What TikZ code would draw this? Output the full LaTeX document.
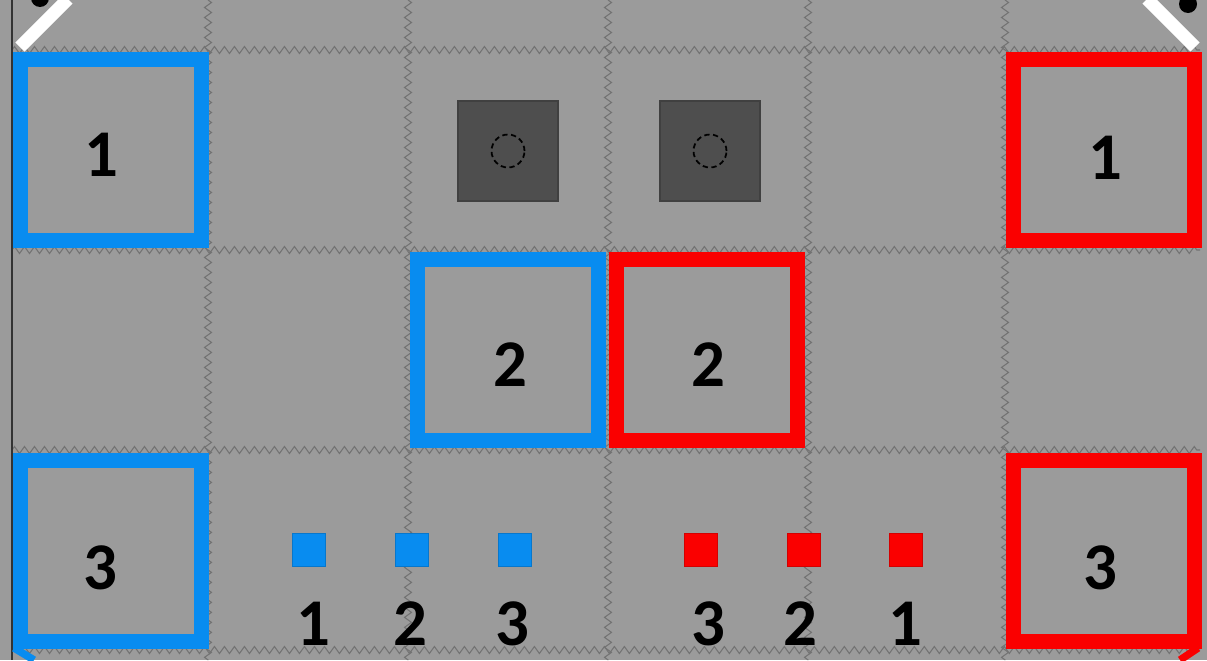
\documentclass[tikz,border=0pt]{standalone}
\usepackage{fontspec}
\setmainfont{Carlito}
\usetikzlibrary{decorations.pathmorphing}

\definecolor{fieldgray}{RGB}{155,155,155}
\definecolor{teamblue}{RGB}{8,140,240}
\definecolor{teamred}{RGB}{250,0,0}
\definecolor{postgray}{RGB}{78,78,78}

\tikzset{
  tilegap/.style={draw=black!55, line width=0.6pt, decorate,
    decoration={zigzag, segment length=0.2cm, amplitude=0.07cm}},
  zone/.style={line width=0.3cm, minimum width=3.64cm, minimum height=3.64cm, inner sep=0pt},
  bluezone/.style={zone, draw=teamblue},
  redzone/.style={zone, draw=teamred},
  numlabel/.style={font=\fontsize{38}{40}\selectfont\bfseries, text=black, inner sep=0pt},
  smallmark/.style={minimum size=0.66cm, inner sep=0pt, line width=0.6pt},
  bluemark/.style={smallmark, fill=teamblue, draw=teamblue!85!black},
  redmark/.style={smallmark, fill=teamred, draw=teamred!85!black},
  post/.style={fill=postgray, draw=black!75, line width=1pt, minimum size=2cm, inner sep=0pt}
}

\begin{document}
\begin{tikzpicture}[x=0.02cm, y=-0.02cm]
    \useasboundingbox (0,0) rectangle (1207,660);
    % Field
    \fill[fieldgray] (0,0) rectangle (1207,660);

    % Tiles
    \foreach \gx in {208,408,608,808,1005}
        \draw[tilegap] (\gx,0) -- (\gx,660);
    \foreach \gy in {50,250,450,650}
        \draw[tilegap] (12,\gy) -- (1200,\gy);
    \draw[black!80, line width=1.2pt] (12,0) -- (12,660);

    % Corners
    \draw[white, line width=0.26cm] (20,47) -- (68,-1);
    \draw[white, line width=0.26cm] (1147,-1) -- (1195,47);
    \fill[black] (40,-2) circle (0.18cm);
    \fill[black] (1188,4) circle (0.18cm);
    \draw[teamblue, line width=0.15cm] (14,648) -- (34,660);
    \draw[teamred, line width=0.15cm] (1198,648) -- (1180,660);

    % Posts
    \node[post] (post1) at (508,151) {};
    \node[post] (post2) at (710,151) {};
    \draw[black, densely dashed, line width=1pt] (post1.center) circle (0.33cm);
    \draw[black, densely dashed, line width=1pt] (post2.center) circle (0.33cm);

    % Zones
    \node[bluezone] (blue1) at (111,150) {};
    \node[redzone] (red1) at (1104,150) {};
    \node[bluezone] (blue2) at (508,350) {};
    \node[redzone] (red2) at (707,350) {};
    \node[bluezone] (blue3) at (111,551) {};
    \node[redzone] (red3) at (1104,551) {};

    \node[numlabel] (nblue1) at (101,155) {1};
    \node[numlabel] (nred1) at (1105,158) {1};
    \node[numlabel] (nblue2) at (510,365) {2};
    \node[numlabel] (nred2) at (708,365) {2};
    \node[numlabel] (nblue3) at (100,568) {3};
    \node[numlabel] (nred3) at (1100,568) {3};

    % Markers
    \node[bluemark] (bm1) at (309,550) {};
    \node[bluemark] (bm2) at (412,550) {};
    \node[bluemark] (bm3) at (515,550) {};
    \node[redmark] (rm3) at (701,550) {};
    \node[redmark] (rm2) at (804,550) {};
    \node[redmark] (rm1) at (906,550) {};

    \node[numlabel] (lbm1) at (313,624) {1};
    \node[numlabel] (lbm2) at (410,624) {2};
    \node[numlabel] (lbm3) at (512,624) {3};
    \node[numlabel] (lrm3) at (708,624) {3};
    \node[numlabel] (lrm2) at (800,624) {2};
    \node[numlabel] (lrm1) at (905,624) {1};
\end{tikzpicture}
\end{document}
